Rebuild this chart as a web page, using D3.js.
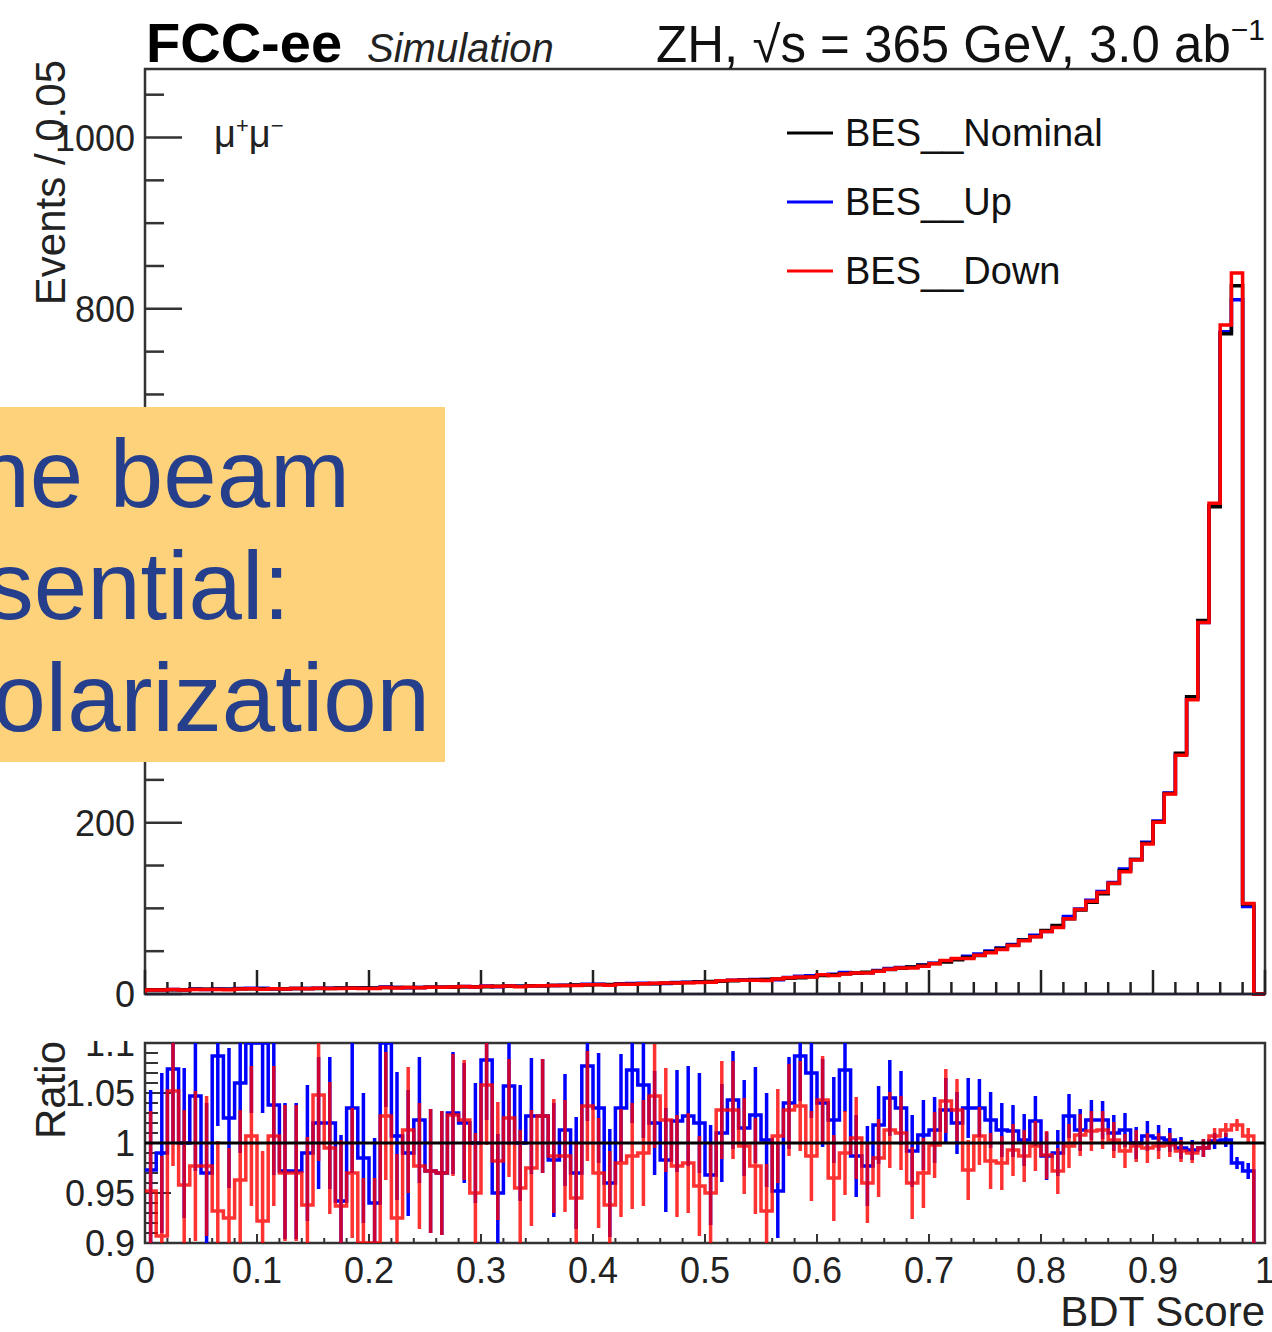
<!DOCTYPE html>
<html>
<head>
<meta charset="utf-8">
<script src="https://cdn.jsdelivr.net/npm/d3@7"></script>
<style>
  body { margin: 0; background: #fff; }
  text { font-family: "Liberation Sans", Arial, sans-serif; }
</style>
</head>
<body>
<svg id="chart" width="1272" height="1332"></svg>
<script>
// binning: 100 bins between 0 and 1
const nBins = 100;
const xMin = 0, xMax = 1;

// nominal events per bin
const nominal = [
  5, 5, 5, 5, 5.5, 5.5, 5.5, 5.5, 6, 6,
  6, 6, 6, 6.5, 6.5, 6.5, 6.5, 7, 7, 7,
  7, 7.5, 7.5, 7.5, 7.5, 8, 8, 8, 8.5, 8.5,
  8.5, 9, 9, 9, 9.5, 9.5, 10, 10, 10.5, 10.5,
  11, 11, 11.5, 11.5, 12, 12, 12.5, 13, 13.5, 14,
  14.5, 15, 15.5, 16, 16.5, 17, 17.5, 18.5, 19, 20,
  21.5, 22.5, 23.5, 24.5, 25.5, 27, 28.5, 30, 31.5, 33.5,
  35.5, 37.5, 40, 42.5, 45, 49, 53, 57, 63, 67,
  74, 80, 88, 98, 107, 117, 129, 144, 157, 176,
  201, 234, 281, 347, 436, 569, 771, 827, 105, 0
];

// BES_Up / Nominal
const ratioUp = [
  0.973, 0.99, 1.074, 1.0, 1.047, 0.97, 1.087, 1.025, 1.06, 1.1,
  1.1, 1.038, 0.972, 0.972, 0.99, 1.02, 1.02, 0.942, 1.035, 0.985,
  0.94, 1.1, 1.007, 0.99, 1.023, 0.972, 0.97, 1.03, 1.02, 1.0,
  1.083, 0.95, 1.057, 1.0, 1.027, 1.027, 0.983, 1.013, 0.97, 1.077,
  1.035, 0.96, 1.035, 1.073, 1.058, 1.02, 0.983, 1.022, 1.027, 1.02,
  0.968, 1.01, 1.043, 1.015, 1.028, 1.003, 0.952, 1.04, 1.087, 1.07,
  1.04, 1.023, 1.073, 0.987, 0.977, 1.018, 1.045, 1.035, 0.992, 1.008,
  1.013, 1.033, 1.02, 1.035, 1.035, 1.023, 1.013, 1.012, 1.003, 1.022,
  0.987, 0.99, 1.027, 1.013, 1.023, 1.023, 1.01, 1.013, 1.0, 1.007,
  1.005, 1.003, 0.995, 0.993, 0.995, 1.002, 1.003, 0.98, 0.972, 0
];

// BES_Down / Nominal
const ratioDown = [
  0.952, 0.907, 1.052, 0.958, 0.977, 0.977, 0.932, 0.925, 0.963, 1.007,
  0.922, 1.007, 0.97, 0.97, 0.938, 1.048, 0.995, 0.937, 0.97, 0.9,
  0.9, 1.027, 0.925, 1.013, 0.977, 0.972, 0.97, 1.028, 1.023, 0.95,
  1.058, 0.982, 1.025, 0.955, 0.975, 1.027, 0.987, 0.987, 0.945, 1.037,
  0.97, 0.938, 0.98, 0.987, 0.99, 1.047, 1.023, 0.977, 0.98, 0.957,
  0.95, 1.033, 1.033, 0.997, 0.977, 0.932, 1.007, 1.033, 1.037, 0.987,
  1.043, 0.965, 0.99, 1.005, 0.96, 0.985, 1.013, 1.01, 0.96, 0.97,
  0.998, 1.042, 1.033, 0.973, 1.007, 0.982, 0.98, 0.993, 0.987, 0.997,
  0.988, 0.972, 0.997, 1.008, 1.012, 1.013, 1.003, 0.992, 0.997, 0.995,
  0.997, 0.998, 0.992, 0.99, 0.995, 1.007, 1.013, 1.018, 1.007, 0
];

// half length of the ratio error bars
const ratioErr = [
  0.08, 0.08, 0.075, 0.075, 0.075, 0.07, 0.07, 0.07, 0.07, 0.07,
  0.07, 0.07, 0.068, 0.068, 0.068, 0.066, 0.066, 0.066, 0.065, 0.065,
  0.065, 0.064, 0.064, 0.063, 0.063, 0.062, 0.062, 0.061, 0.06, 0.06,
  0.06, 0.059, 0.059, 0.058, 0.058, 0.057, 0.057, 0.056, 0.056, 0.055,
  0.055, 0.054, 0.054, 0.053, 0.053, 0.052, 0.052, 0.051, 0.05, 0.05,
  0.05, 0.049, 0.049, 0.048, 0.048, 0.047, 0.047, 0.046, 0.045, 0.045,
  0.044, 0.043, 0.042, 0.041, 0.04, 0.039, 0.038, 0.037, 0.036, 0.035,
  0.033, 0.032, 0.031, 0.03, 0.029, 0.028, 0.027, 0.026, 0.026, 0.025,
  0.024, 0.023, 0.022, 0.021, 0.02, 0.019, 0.018, 0.017, 0.016, 0.015,
  0.013, 0.012, 0.011, 0.01, 0.009, 0.008, 0.007, 0.006, 0.008, 0
];

const yTicksMain = [0, 200, 400, 600, 800, 1000];
const yTicksRatio = [0.9, 0.95, 1, 1.05, 1.1];
const xTicks = [0, 0.1, 0.2, 0.3, 0.4, 0.5, 0.6, 0.7, 0.8, 0.9, 1];

const series = [
  { name: "BES__Nominal", color: "#000000", ratio: null },
  { name: "BES__Up", color: "#0000ff", ratio: ratioUp },
  { name: "BES__Down", color: "#ff0000", ratio: ratioDown }
];

const svg = d3.select("#chart");
const left = 145, right = 1265;
const mainTop = 69, mainBottom = 994;
const ratTop = 1043, ratBottom = 1243;

const x = d3.scaleLinear().domain([xMin, xMax]).range([left, right]);
const y = d3.scaleLinear().domain([0, 1080]).range([mainBottom, mainTop]);
const yr = d3.scaleLinear().domain([0.9, 1.1]).range([ratBottom, ratTop]);
const binW = (xMax - xMin) / nBins;
const binLow = d3.range(nBins).map(i => xMin + i * binW);

function values(s) {
  return s.ratio ? nominal.map((v, i) => v * s.ratio[i]) : nominal;
}

// step path of a histogram
function stepPath(vals, ys, fromBase) {
  const p = d3.path();
  if (fromBase) p.moveTo(x(xMin), ys(0)); else p.moveTo(x(xMin), ys(vals[0]));
  vals.forEach((v, i) => {
    p.lineTo(x(binLow[i]), ys(v));
    p.lineTo(x(binLow[i] + binW), ys(v));
  });
  if (fromBase) p.lineTo(x(xMax), ys(0));
  return p.toString();
}

// ---------- main pad ----------
svg.append("clipPath").attr("id", "clipMain")
  .append("rect").attr("x", left).attr("y", mainTop).attr("width", right - left).attr("height", mainBottom - mainTop + 2);
svg.append("clipPath").attr("id", "clipRatio")
  .append("rect").attr("x", left).attr("y", ratTop).attr("width", right - left).attr("height", ratBottom - ratTop);
// the lower pad cuts off anything above its top edge
svg.append("clipPath").attr("id", "clipRatioPad")
  .append("rect").attr("x", 0).attr("y", 1041).attr("width", 1272).attr("height", 300);

// frame
svg.append("rect")
  .attr("x", left).attr("y", mainTop).attr("width", right - left).attr("height", mainBottom - mainTop)
  .attr("fill", "none").attr("stroke", "#333").attr("stroke-width", 2.5);

// y ticks
const yMinor = d3.range(0, 1080, 50);
svg.append("g").selectAll("line").data(yMinor).join("line")
  .attr("x1", left).attr("x2", d => left + (d % 200 === 0 ? 37 : 19))
  .attr("y1", d => y(d)).attr("y2", d => y(d))
  .attr("stroke", "#333").attr("stroke-width", 2.5);
svg.append("g").selectAll("text").data(yTicksMain).join("text")
  .attr("x", 135).attr("y", d => y(d) + 13)
  .attr("text-anchor", "end").attr("font-size", 36).attr("fill", "#222")
  .text(d => d);

// x ticks main pad
const xMinor = d3.range(0, 1.0001, 0.02);
svg.append("g").selectAll("line").data(xMinor).join("line")
  .attr("x1", d => x(d)).attr("x2", d => x(d))
  .attr("y1", mainBottom).attr("y2", (d, i) => mainBottom - (i % 5 === 0 ? 24 : 12))
  .attr("stroke", "#222").attr("stroke-width", 2.5);

// histograms
const gMain = svg.append("g").attr("clip-path", "url(#clipMain)");
[series[1], series[0], series[2]].forEach(s => {
  gMain.append("path")
    .attr("d", stepPath(values(s), y, true))
    .attr("fill", "none").attr("stroke", s.color).attr("stroke-width", 3.5)
    .attr("stroke-linejoin", "miter");
});

// bottom axis line
svg.append("line").attr("x1", left).attr("x2", right).attr("y1", mainBottom).attr("y2", mainBottom)
  .attr("stroke", "#223").attr("stroke-width", 2.5);

// legend
const legend = svg.append("g");
series.forEach((s, i) => {
  const ly = 133 + i * 69;
  legend.append("line").attr("x1", 787).attr("x2", 833).attr("y1", ly).attr("y2", ly)
    .attr("stroke", s.color).attr("stroke-width", 3);
  legend.append("text").attr("x", 845).attr("y", ly + 13)
    .attr("font-size", 38).attr("fill", "#111").text(s.name);
});

// mu+mu- label
const mu = svg.append("text").attr("x", 214).attr("y", 147)
  .attr("font-family", "Liberation Serif, serif").attr("font-size", 38).attr("fill", "#222");
mu.append("tspan").text("μ");
mu.append("tspan").attr("font-size", 22).attr("dy", -14).text("+");
mu.append("tspan").attr("dy", 14).text("μ");
mu.append("tspan").attr("font-size", 22).attr("dy", -14).text("−");

// header
svg.append("text").attr("x", 146).attr("y", 62)
  .attr("font-size", 56).attr("font-weight", "bold").attr("fill", "#000").text("FCC-ee");
svg.append("text").attr("x", 367).attr("y", 62)
  .attr("font-size", 40).attr("font-style", "italic").attr("fill", "#222").text("Simulation");
const hdr = svg.append("text").attr("x", 1265).attr("y", 62).attr("text-anchor", "end")
  .attr("font-size", 51).attr("fill", "#111");
hdr.append("tspan").text("ZH,  √s = 365 GeV, 3.0 ab");
hdr.append("tspan").attr("font-size", 30).attr("dy", -22).text("−1");

// y title
svg.append("text").attr("transform", "translate(65,60) rotate(-90)")
  .attr("text-anchor", "end").attr("font-size", 42).attr("fill", "#222")
  .text("Events / 0.05");

// ---------- ratio pad ----------
svg.append("rect")
  .attr("x", left).attr("y", ratTop).attr("width", right - left).attr("height", ratBottom - ratTop)
  .attr("fill", "none").attr("stroke", "#333").attr("stroke-width", 2.5);

const yrMinor = d3.range(0, 21).map(i => 0.9 + i * 0.01);
svg.append("g").selectAll("line").data(yrMinor).join("line")
  .attr("x1", left).attr("x2", (d, i) => left + (i % 5 === 0 ? 26 : 13))
  .attr("y1", d => yr(d)).attr("y2", d => yr(d))
  .attr("stroke", "#333").attr("stroke-width", 2);
svg.append("g").selectAll("line").data(xMinor).join("line")
  .attr("x1", d => x(d)).attr("x2", d => x(d))
  .attr("y1", ratBottom).attr("y2", (d, i) => ratBottom - (i % 5 === 0 ? 9 : 5))
  .attr("stroke", "#333").attr("stroke-width", 2);

const gRat = svg.append("g").attr("clip-path", "url(#clipRatio)");
[series[1], series[2]].forEach(s => {
  const g = gRat.append("g").attr("opacity", s.color === "#ff0000" ? 0.8 : 1);
  g.append("path").attr("d", stepPath(s.ratio, yr, false))
    .attr("fill", "none").attr("stroke", s.color).attr("stroke-width", 3.5);
  g.selectAll("line").data(s.ratio).join("line")
    .attr("x1", (d, i) => x(binLow[i] + binW / 2)).attr("x2", (d, i) => x(binLow[i] + binW / 2))
    .attr("y1", (d, i) => yr(d - ratioErr[i])).attr("y2", (d, i) => yr(d + ratioErr[i]))
    .attr("stroke", s.color).attr("stroke-width", 3.5);
});
svg.append("line").attr("x1", left).attr("x2", right).attr("y1", yr(1)).attr("y2", yr(1))
  .attr("stroke", "#000").attr("stroke-width", 3);

svg.append("g").attr("clip-path", "url(#clipRatioPad)")
  .selectAll("text").data(yTicksRatio).join("text")
  .attr("x", 135).attr("y", d => yr(d) + 13)
  .attr("text-anchor", "end").attr("font-size", 36).attr("fill", "#222")
  .text(d => d);
svg.append("g").selectAll("text").data(xTicks).join("text")
  .attr("x", d => x(d)).attr("y", 1283)
  .attr("text-anchor", "middle").attr("font-size", 36).attr("fill", "#222")
  .text(d => d);
svg.append("text").attr("transform", "translate(65,1090) rotate(-90)")
  .attr("text-anchor", "middle").attr("font-size", 42).attr("fill", "#222").text("Ratio");
svg.append("text").attr("x", 1265).attr("y", 1326).attr("text-anchor", "end")
  .attr("font-size", 42).attr("fill", "#222").text("BDT Score");

// ---------- slide overlay box ----------
svg.append("rect").attr("x", 0).attr("y", 407).attr("width", 445).attr("height", 355).attr("fill", "#fdd27b");
const note = ["the beam", "essential:", "polarization"];
svg.append("g").selectAll("text").data(note).join("text")
  .attr("x", (d, i) => [350, 290, 430][i]).attr("y", (d, i) => 507 + i * 112)
  .attr("text-anchor", "end").attr("font-size", 96).attr("fill", "#263f8c")
  .text(d => d);
</script>
</body>
</html>
